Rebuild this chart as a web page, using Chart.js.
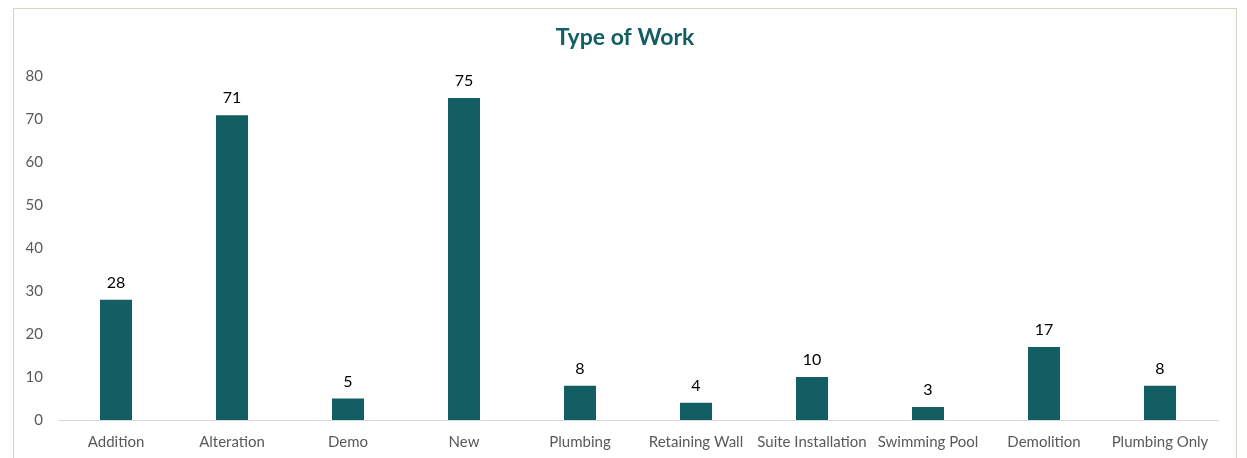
<!DOCTYPE html>
<html>
<head>
<meta charset="utf-8">
<script src="https://cdn.jsdelivr.net/npm/chart.js@4.4.0/dist/chart.umd.min.js"></script>
<style>
  html, body { margin: 0; padding: 0; background: #fff; overflow: hidden; }
  #box { position: absolute; left: 13px; top: 8px; width: 1224px; height: 470px;
         border: 1px solid #D9D4C7; box-sizing: border-box; background: #fff; }
  #wrap { position: absolute; left: 0; top: 0; width: 1222px; height: 461px; }
</style>
</head>
<body>
<div id="box"><div id="wrap"><canvas id="c"></canvas></div></div>
<script>
const categories = ["Addition", "Alteration", "Demo", "New", "Plumbing", "Retaining Wall", "Suite Installation", "Swimming Pool", "Demolition", "Plumbing Only"];
const counts = [28, 71, 5, 75, 8, 4, 10, 3, 17, 8];
const yTicks = [0, 10, 20, 30, 40, 50, 60, 70, 80];

const FONT = "Lato, 'Open Sans', sans-serif";
const TEAL = "#135E63";

const valueLabels = {
  id: "valueLabels",
  afterDatasetsDraw(chart) {
    const ctx = chart.ctx;
    const meta = chart.getDatasetMeta(0);
    ctx.save();
    ctx.font = "16px " + FONT;
    ctx.fillStyle = "#000";
    ctx.textAlign = "center";
    ctx.textBaseline = "middle";
    meta.data.forEach((bar, i) => {
      ctx.fillText(String(chart.data.datasets[0].data[i]), bar.x, bar.y - 17);
    });
    ctx.restore();
  }
};

new Chart(document.getElementById("c"), {
  type: "bar",
  data: {
    labels: categories,
    datasets: [{
      data: counts,
      backgroundColor: TEAL,
      borderWidth: 0,
      barPercentage: 0.276,
      categoryPercentage: 1.0
    }]
  },
  options: {
    responsive: true,
    maintainAspectRatio: false,
    animation: false,
    layout: { padding: { top: 0, right: 0, bottom: 6, left: 0 } },
    plugins: {
      legend: { display: false },
      tooltip: { enabled: false },
      title: {
        display: true,
        text: "Type of Work",
        color: TEAL,
        font: { family: FONT, size: 23, weight: "bold" },
        padding: { top: 15, bottom: 25 }
      }
    },
    scales: {
      x: {
        grid: { display: false, drawTicks: false },
        border: { display: true, color: "#D9D9D9", width: 1 },
        ticks: { color: "#595959", font: { family: FONT, size: 15 }, padding: 13, maxRotation: 0, autoSkip: false }
      },
      y: {
        min: 0, max: 80,
        afterBuildTicks(scale) { scale.ticks = yTicks.map(v => ({ value: v })); },
        afterFit(scale) { scale.width = 44; },
        grid: { display: false, drawTicks: false },
        border: { display: false },
        ticks: { color: "#595959", font: { family: FONT, size: 15 }, padding: 15 }
      },
      spacer: {
        type: "linear",
        position: "right",
        min: 0, max: 80,
        afterFit(scale) { scale.width = 18; },
        grid: { display: false, drawTicks: false },
        border: { display: false },
        ticks: { display: false }
      }
    }
  },
  plugins: [valueLabels]
});
</script>
</body>
</html>
